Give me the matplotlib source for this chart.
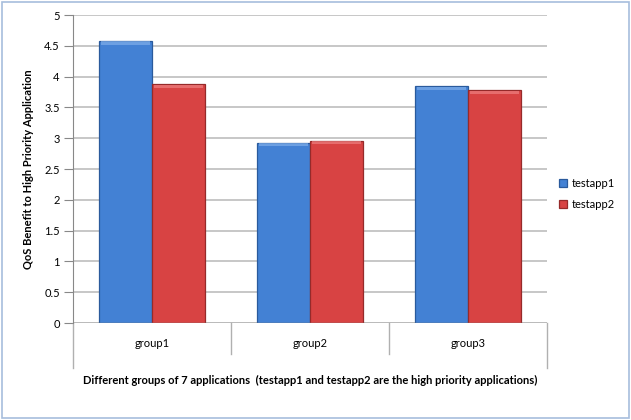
import numpy as np
import matplotlib
matplotlib.use("Agg")
import matplotlib.pyplot as plt
from matplotlib.patches import Rectangle

groups = ["group1", "group2", "group3"]
testapp1 = [4.58, 2.93, 3.84]
testapp2 = [3.88, 2.96, 3.78]
yticks = [0, 0.5, 1, 1.5, 2, 2.5, 3, 3.5, 4, 4.5, 5]

plt.rcParams["font.family"] = ["Lato", "DejaVu Sans"]

fig = plt.figure(figsize=(6.31, 4.2), dpi=100)
ax = fig.add_axes([73 / 631, 1 - 323 / 420, (547 - 73) / 631, (323 - 15) / 420])

x = np.arange(len(groups))
w = 1 / 3
b1 = ax.bar(x - w / 2, testapp1, w, color="#4381D4", edgecolor="#2A5A9C",
            linewidth=0.9, label="testapp1", zorder=3)
b2 = ax.bar(x + w / 2, testapp2, w, color="#D84343", edgecolor="#962A2A",
            linewidth=0.9, label="testapp2", zorder=3)

# light bevel along the top of each bar
for bars, hi in ((b1, "#7FAEEA"), (b2, "#EE8080")):
    for p in bars:
        ax.add_patch(Rectangle((p.get_x() + 0.01, p.get_height() - 0.06),
                               p.get_width() - 0.02, 0.05, color=hi,
                               lw=0, zorder=4, alpha=0.7))

ax.set_xlim(-0.5, len(groups) - 0.5)
ax.set_ylim(0, 5)
ax.set_yticks(yticks)
ax.set_yticklabels([f"{t:g}" for t in yticks], fontsize=8)
ax.yaxis.grid(True, color="#BDBDBD", lw=1.2, zorder=0)
ax.set_axisbelow(True)
for s in ("top", "right", "bottom"):
    ax.spines[s].set_visible(False)
ax.spines["left"].set_color("#888888")
ax.tick_params(axis="y", length=6.5, color="#888888", pad=3)
ax.set_xticks([])
ax.axhline(0, color="#888888", lw=1, zorder=5)

# category band below the plot
for i in range(len(groups) + 1):
    xs = i - 0.5
    low = -0.73 if i in (0, len(groups)) else -0.5
    ax.plot([xs, xs], [0, low], color="#B0B0B0", lw=1, clip_on=False)
for i, g in enumerate(groups):
    ax.text(i, -0.34, g, ha="center", va="center", fontsize=8)

ax.set_ylabel("QoS Benefit to High Priority Application", fontsize=8,
              fontweight="bold")
ax.yaxis.set_label_coords(-(73 - 34) / 474, 0.5)
fig.text(310 / 631, 1 - 380 / 420,
         "Different groups of 7 applications  (testapp1 and testapp2 are the high priority applications)",
         ha="center", va="center", fontsize=8, fontweight="bold")

ax.legend(loc="center left", bbox_to_anchor=(1.005, 0.42), frameon=False,
          fontsize=8, handlelength=0.7, handleheight=0.7, handletextpad=0.4,
          labelspacing=0.9)

fig.patches.append(Rectangle((0.003, 0.004), 0.994, 0.992, transform=fig.transFigure,
                             fill=False, edgecolor="#A7BEDD", lw=1.2))

fig.savefig("out.png", dpi=100)
